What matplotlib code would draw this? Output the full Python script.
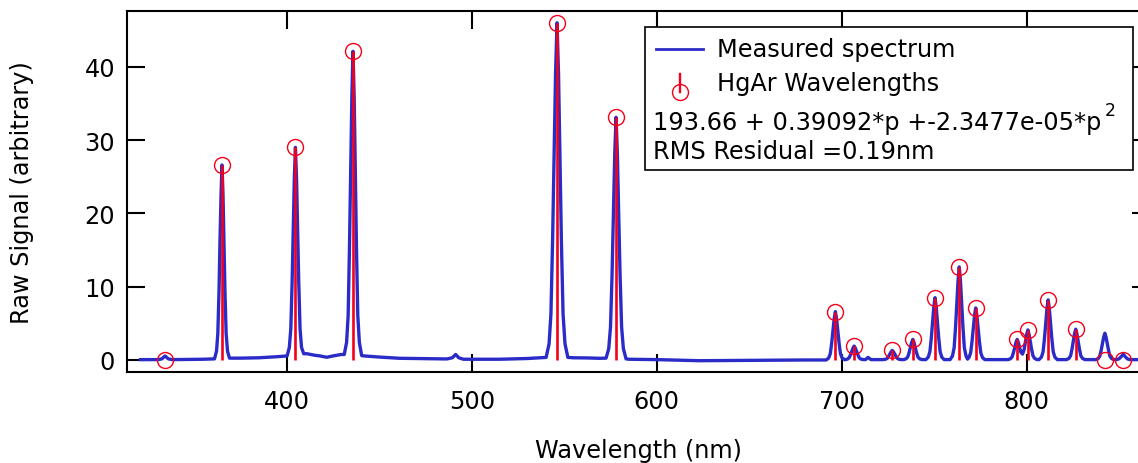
import matplotlib
matplotlib.use("Agg")
import matplotlib.pyplot as plt
from matplotlib.lines import Line2D
from matplotlib.patches import Rectangle

# ---- data ----
# reference HgAr line wavelengths (nm) and the stick heights shown
line_wl = [334.15, 365.02, 404.66, 435.83, 546.07, 578.0, 696.54, 706.72,
           727.29, 738.40, 750.39, 763.51, 772.38, 794.82, 800.62, 811.53,
           826.45, 842.46, 852.14]
line_height = [0.0, 26.6, 29.0, 42.1, 46.0, 33.1, 6.6, 1.9,
               1.3, 2.8, 8.5, 12.7, 7.1, 2.8, 4.1, 8.2,
               4.2, 0.0, 0.0]

# measured spectrum, points
spec_wl = [
    321, 326, 330.5, 332.5, 334.2, 336.0, 338.0, 345, 355,
    360.95, 362.05, 362.75, 363.4, 363.9, 364.5, 365.0, 365.55, 366.1, 366.6, 367.25, 368.0, 369.05,
    375, 385, 395,
    400.2, 401.4, 402.2, 402.9, 403.5, 404.1, 404.7, 405.3, 405.9, 406.5, 407.2, 408.0, 409.2,
    411, 415, 418, 421.6, 425, 429.5,
    431.1, 432.35, 433.2, 433.9, 434.55, 435.2, 435.8, 436.45, 437.05, 437.7, 438.4, 439.25, 440.5,
    442, 450, 461, 475, 486.5, 489.5, 491.3, 493, 495.5, 515, 530, 538.7,
    540.2, 541.8, 542.8, 543.7, 544.5, 545.3, 546.1, 546.9, 547.65, 548.45, 549.35, 550.4, 551.95,
    555, 562, 569,
    572.6, 574.05, 575.0, 575.85, 576.55, 577.3, 578.0, 578.7, 579.45, 580.15, 581.0, 581.95, 583.4,
    585, 600, 623, 650, 680, 688,
    691.6, 692.9, 693.8, 694.55, 695.25, 695.9, 696.55, 697.2, 697.85, 698.55, 699.3, 700.2,
    701.7, 703.05, 703.95, 704.7, 705.4, 706.05, 706.7, 707.35, 708.0, 708.7, 709.45, 710.35, 711.65,
    712.8, 714.2, 715.8, 720,
    722.35, 723.65, 724.55, 725.3, 726.0, 726.65, 727.3, 727.95, 728.6, 729.3, 730.05, 730.95, 732.25,
    733.45, 734.75, 735.65, 736.4, 737.1, 737.75, 738.4, 739.05, 739.7, 740.4, 741.15, 742.05, 743.35,
    745.45, 746.75, 747.65, 748.4, 749.1, 749.75, 750.4, 751.05, 751.7, 752.4, 753.15, 754.05, 755.35,
    758.55, 759.85, 760.75, 761.5, 762.2, 762.85, 763.5, 764.15, 764.8, 765.5, 766.25, 767.15,
    767.95,
    768.75, 769.65, 770.4, 771.1, 771.75, 772.4, 773.05, 773.7, 774.4, 775.15, 776.05, 777.35,
    785, 789,
    789.85, 791.15, 792.05, 792.8, 793.5, 794.15, 794.8, 795.45, 796.1, 796.8, 797.7,
    798.6, 799.3, 799.95, 800.6, 801.25, 801.9, 802.6, 803.35, 804.25, 805.55,
    806.6, 807.9, 808.8, 809.55, 810.25, 810.9, 811.55, 812.2, 812.85, 813.55, 814.3, 815.2, 816.5,
    821.5, 822.8, 823.7, 824.45, 825.15, 825.8, 826.45, 827.1, 827.75, 828.45, 829.2, 830.1, 831.4,
    837.25, 838.55, 839.45, 840.2, 840.9, 841.55, 842.2, 842.85, 843.5, 844.2, 844.95, 845.85, 847.15,
    848.5, 849.8, 851.0, 852.1, 853.2, 854.4, 855.7,
    862, 867,
]
spec_val = [
    0.05, 0.05, 0.05, 0.15, 0.55, 0.15, 0.05, 0.07, 0.10,
    0.15, 1.2, 3.6, 9.4, 16.0, 22.6, 26.6, 22.6, 16.0, 9.4, 3.6, 1.2, 0.25,
    0.25, 0.30, 0.45,
    0.55, 1.7, 4.25, 10.5, 17.6, 24.7, 29.0, 24.7, 17.6, 10.5, 4.25, 1.7, 0.85,
    0.85, 0.65, 0.55, 0.37, 0.55, 0.75,
    0.75, 2.4, 6.1, 15.2, 25.6, 35.9, 42.1, 35.9, 25.6, 15.2, 6.1, 2.4, 0.6,
    0.55, 0.40, 0.23, 0.18, 0.14, 0.30, 0.75, 0.30, 0.10, 0.10, 0.20, 0.32,
    0.35, 2.2, 6.3, 16.3, 27.7, 39.1, 46.0, 39.1, 27.7, 16.3, 6.3, 2.2, 0.35,
    0.30, 0.28, 0.23,
    0.25, 1.55, 4.5, 11.75, 19.95, 28.2, 33.1, 28.2, 19.95, 11.75, 4.5, 1.55, 0.15,
    0.10, 0.05, -0.10, -0.05, 0.0, 0.0,
    0.0, 0.26, 0.86, 2.3, 3.96, 5.6, 6.6, 5.6, 3.96, 2.3, 0.86, 0.26,
    0.03, 0.12, 0.29, 0.7, 1.16, 1.62, 1.9, 1.62, 1.16, 0.7, 0.29, 0.12, 0.05,
    0.05, 0.35, 0.05, 0.05,
    0.05, 0.1, 0.21, 0.49, 0.8, 1.11, 1.3, 1.11, 0.8, 0.49, 0.21, 0.1, 0.05,
    0.05, 0.16, 0.41, 1.01, 1.7, 2.39, 2.8, 2.39, 1.7, 1.01, 0.41, 0.16, 0.05,
    0.05, 0.39, 1.15, 3.0, 5.12, 7.23, 8.5, 7.23, 5.12, 3.0, 1.15, 0.39, 0.05,
    0.05, 0.56, 1.69, 4.48, 7.64, 10.8, 12.7, 10.8, 7.64, 4.48, 1.69, 0.56,
    0.12,
    0.33, 0.97, 2.52, 4.28, 6.04, 7.1, 6.04, 4.28, 2.52, 0.97, 0.33, 0.05,
    0.05, 0.05,
    0.05, 0.16, 0.41, 1.01, 1.7, 2.39, 2.8, 2.39, 1.7, 1.05, 0.8,
    1.47, 2.48, 3.49, 4.1, 3.49, 2.48, 1.47, 0.58, 0.21, 0.05,
    0.05, 0.38, 1.11, 2.9, 4.94, 6.98, 8.2, 6.98, 4.94, 2.9, 1.11, 0.38, 0.05,
    0.05, 0.22, 0.59, 1.5, 2.54, 3.58, 4.2, 3.58, 2.54, 1.5, 0.59, 0.22, 0.05,
    0.05, 0.19, 0.52, 1.31, 2.21, 3.11, 3.65, 3.11, 2.21, 1.31, 0.52, 0.19, 0.05,
    0.05, 0.15, 0.45, 0.8, 0.45, 0.15, 0.05,
    0.05, 0.05,
]

x_ticks = [400, 500, 600, 700, 800]
y_ticks = [0, 10, 20, 30, 40]
legend_labels = ["Measured spectrum", "HgAr Wavelengths"]
fit_text = "193.66 + 0.39092*p +-2.3477e-05*p"
fit_power = "2"
rms_text = "RMS Residual =0.19nm"

BLUE = "#2B2BC8"
RED = "#F5001A"

W, H = 1138, 464
fig = plt.figure(figsize=(W / 100, H / 100), dpi=100)
plt.rcParams['font.family'] = ['DejaVu Sans']


def fx(x):
    return x / W


def fy(y):
    return 1 - y / H


# axes: left spine x=126.7, top y=11.7, bottom y=373, right spine beyond the image
ax = fig.add_axes([fx(126.7), fy(373), (1150 - 126.7) / W, (373 - 11.7) / H])

ax.plot(spec_wl, spec_val, color=BLUE, lw=2.4, solid_joinstyle='round', zorder=2)
ax.vlines(line_wl, 0, line_height, color=RED, lw=1.9, zorder=3)
ax.plot(line_wl, line_height, 'o', mfc='none', mec=RED, ms=11.5, mew=1.0,
        zorder=4, clip_on=False)

ax.set_xlim(313.5, 866.6)
ax.set_ylim(-1.64, 47.65)
ax.set_xticks(x_ticks)
ax.set_yticks(y_ticks)

FS = 17.3
ax.tick_params(direction='in', length=13, width=1.5, labelsize=FS,
               top=True, right=True, colors='black')
ax.tick_params(axis='x', pad=12)
ax.tick_params(axis='y', pad=8.4)
for s in ax.spines.values():
    s.set_linewidth(1.5)

ax.set_xlabel("Wavelength (nm)", fontsize=FS)
ax.set_ylabel("Raw Signal (arbitrary)", fontsize=FS)
ax.xaxis.set_label_coords(0.5, -(439 - 373) / (373 - 11.7))
ax.yaxis.set_label_coords((34 - 126.7) / (1150 - 126.7), 0.5)

# legend box drawn in figure pixels
fig.add_artist(Rectangle((fx(645), fy(171)), (1133 - 645) / W, (171 - 28) / H,
                         transform=fig.transFigure, fill=True, facecolor='white',
                         edgecolor='black', lw=1.2, zorder=10))
fig.add_artist(Line2D([fx(656), fx(703)], [fy(50), fy(50)], transform=fig.transFigure,
                      color=BLUE, lw=2.0, zorder=11))
fig.add_artist(Line2D([fx(680), fx(680)], [fy(92.5), fy(75)], transform=fig.transFigure,
                      color=RED, lw=1.7, zorder=11))
fig.add_artist(Line2D([fx(680)], [fy(92.5)], transform=fig.transFigure, marker='o',
                      mfc='none', mec=RED, ms=11.5, mew=1.0, zorder=11))
fig.text(fx(717), fy(57), legend_labels[0], fontsize=FS, va='baseline', zorder=12)
fig.text(fx(717), fy(90.7), legend_labels[1], fontsize=FS, va='baseline', zorder=12)
t_fit = fig.text(fx(653), fy(130), fit_text, fontsize=FS, va='baseline', zorder=12)
fig.text(fx(653), fy(159), rms_text, fontsize=FS, va='baseline', zorder=12)

renderer = fig.canvas.get_renderer()
bb = t_fit.get_window_extent(renderer)
fig.text(bb.x1 / W + fx(3), fy(102), fit_power, fontsize=FS * 0.72, va='top', zorder=12)

fig.savefig("out.png", dpi=100)
